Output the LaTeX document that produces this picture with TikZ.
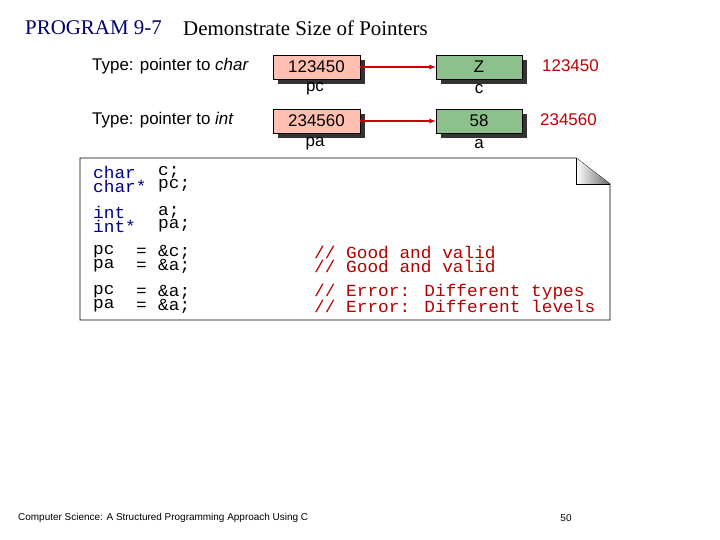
\documentclass[tikz,border=0pt]{standalone}
\usepackage{fontspec}
\setmainfont{Liberation Serif}
\newfontfamily\arial{Liberation Sans}
\newfontfamily\mono{Liberation Mono}
\begin{document}
\begin{tikzpicture}[x=1bp,y=-1bp,
  ptr/.style={draw=black,fill=orange!35!red!30!white,minimum width=87bp,minimum height=24bp,font=\arial\fontsize{17}{17}\selectfont,inner sep=0pt},
  val/.style={draw=black,fill=green!45!black!45!white,minimum width=86bp,minimum height=24bp,font=\arial\fontsize{17}{17}\selectfont,inner sep=0pt},
  shad/.style={fill=black!80},
  lab/.style={font=\arial\fontsize{17}{17}\selectfont,inner sep=0pt},
  addr/.style={font=\arial\fontsize{17}{17}\selectfont,text=red!75!black,inner sep=0pt,anchor=west},
  code/.style={font=\mono\fontsize{17}{17}\selectfont,anchor=west,inner sep=0pt,xscale=1.05},
  kw/.style={code,text=blue!55!black},
  cmt/.style={code,text=red!70!black},
  arr/.style={draw=red!80!black,line width=1.2pt,-latex}]
\useasboundingbox (0,0) rectangle (720,540);
\node[anchor=west,text=blue!40!black,font=\fontsize{21}{21}\selectfont,inner sep=0pt] (t1) at (25,28) {PROGRAM 9-7};
\node[anchor=west,font=\fontsize{21}{21}\selectfont,inner sep=0pt] (t2) at (183,28) {Demonstrate Size of Pointers};
% row 1
\fill[shad] (278,60) rectangle (365,84);
\fill[shad] (441,60) rectangle (527,84);
\node[ptr] (pc) at (316.5,67) {123450};
\node[val] (c) at (479,67) {Z};
\draw[arr] (pc.east) -- (c.west);
\node[lab,anchor=west] (ty1) at (92,66) {Type: pointer to \textit{char}};
\node[lab] (lpc) at (315,89) {pc};
\node[lab] (lc) at (479,89) {c};
\node[addr] (ad1) at (542,66) {123450};
% row 2
\fill[shad] (278,114) rectangle (365,138);
\fill[shad] (441,114) rectangle (527,138);
\node[ptr] (pa) at (316.5,121) {234560};
\node[val] (a) at (479,121) {58};
\draw[arr] (pa.east) -- (a.west);
\node[lab,anchor=west] (ty2) at (92,120) {Type: pointer to \textit{int}};
\node[lab] (lpa) at (315,144) {pa};
\node[lab] (la) at (479,144) {a};
\node[addr] (ad2) at (540,120) {234560};
% code panel
\draw[thick] (80,158) -- (576,158) -- (610,184) -- (610,320) -- (80,320) -- cycle;
\shade[left color=white,right color=black!60] (576,158) -- (576,184) -- (610,184) -- cycle;
\draw (576,158) -- (576,184) -- (610,184);
\node[kw] (k1) at (93,172) {char};
\node[kw] (k2) at (93,186) {char*};
\node[code] (v1) at (158,172) {c;};
\node[code] (v2) at (158,186) {pc;};
\node[kw] (k3) at (93,212) {int};
\node[kw] (k4) at (93,226) {int*};
\node[code] (v3) at (158,212) {a;};
\node[code] (v4) at (158,226) {pa;};
\node[code] (s1) at (93,252) {pc};
\node[code] (s2) at (93,266) {pa};
\node[code] (s3) at (93,292) {pc};
\node[code] (s4) at (93,306) {pa};
\node[code] (e1) at (136,252) {=};
\node[code] (e2) at (136,266) {=};
\node[code] (e3) at (136,292) {=};
\node[code] (e4) at (136,306) {=};
\node[code] (r1) at (158,252) {\&c;};
\node[code] (r2) at (158,266) {\&a;};
\node[code] (r3) at (158,292) {\&a;};
\node[code] (r4) at (158,306) {\&a;};
\node[cmt] (c1) at (314,252) {// Good and valid};
\node[cmt] (c2) at (314,266) {// Good and valid};
\node[cmt] (c3) at (314,292) {// Error: Different types};
\node[cmt] (c4) at (314,306) {// Error: Different levels};
% footer
\node[anchor=west,font=\arial\fontsize{10}{10}\selectfont,inner sep=0pt] (f1) at (18,518) {Computer Science: A Structured Programming Approach Using C};
\node[font=\arial\fontsize{10}{10}\selectfont,inner sep=0pt] (f2) at (566,518) {50};
\end{tikzpicture}
\end{document}
